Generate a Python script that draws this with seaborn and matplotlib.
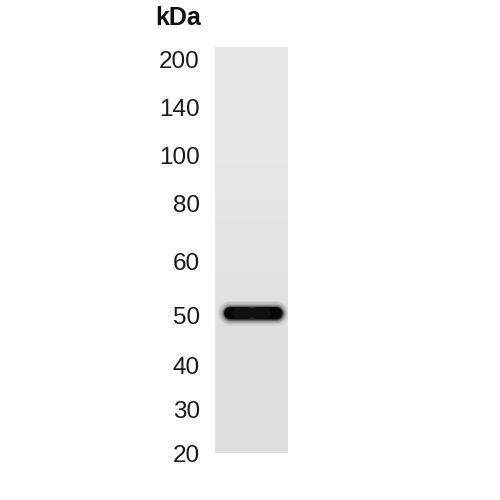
import numpy as np
import matplotlib.pyplot as plt
import seaborn as sns

# molecular weight ladder (kDa) and where each marker ran (pixels from top of the image)
marker_kda = [200, 140, 100, 80, 60, 50, 40, 30, 20]
marker_pos = [60, 107, 155, 204, 262, 315, 365, 409, 453]

# the single detected band
band_kda = 50
band_pos = 313

gel_top, gel_bottom = 47, 453

sns.set_theme(style="white")
plt.rcParams["font.family"] = ["Liberation Sans", "DejaVu Sans"]

fig = plt.figure(figsize=(5, 5), dpi=100)
fig.patch.set_facecolor("white")
ax = fig.add_axes([215 / 500, (500 - gel_bottom) / 500, 73 / 500, (gel_bottom - gel_top) / 500])

# lane background, slightly darker towards the bottom
ax.imshow(np.array([[0.905], [0.875]]), cmap="gray", vmin=0, vmax=1, aspect="auto",
          interpolation="bilinear", extent=[0, 1, gel_bottom, gel_top], zorder=0)

# band: soft halo plus two darker lobes
for lw, a in [(18, 0.05), (16, 0.08), (14, 0.12), (12, 0.2), (10.5, 0.35), (9, 0.5)]:
    sns.lineplot(x=[0.2, 0.84], y=[band_pos, band_pos], color="black", linewidth=lw,
                 alpha=a, ax=ax, solid_capstyle="round")
for x0, x1 in [(0.2, 0.44), (0.58, 0.83)]:
    sns.lineplot(x=[x0, x1], y=[band_pos, band_pos], color="black", linewidth=8.5,
                 alpha=0.85, ax=ax, solid_capstyle="round")
sns.lineplot(x=[0.3, 0.7], y=[band_pos, band_pos], color="#111111", linewidth=7,
             alpha=0.85, ax=ax, solid_capstyle="round")

ax.set_xlim(0, 1)
ax.set_ylim(gel_bottom, gel_top)
ax.set_xticks([])
ax.set_yticks(marker_pos)
ax.set_yticklabels([str(k) for k in marker_kda])
ax.tick_params(axis="y", length=0, pad=11, labelsize=17.5, labelcolor="#1a1a1a")
ax.set_xlabel("")
ax.set_ylabel("")
for s in ax.spines.values():
    s.set_visible(False)

fig.text(201 / 500, 1 - 18 / 500, "kDa", ha="right", va="center",
         fontsize=18, fontweight="bold", color="#111111")

fig.savefig("out.png", dpi=100, facecolor="white")
